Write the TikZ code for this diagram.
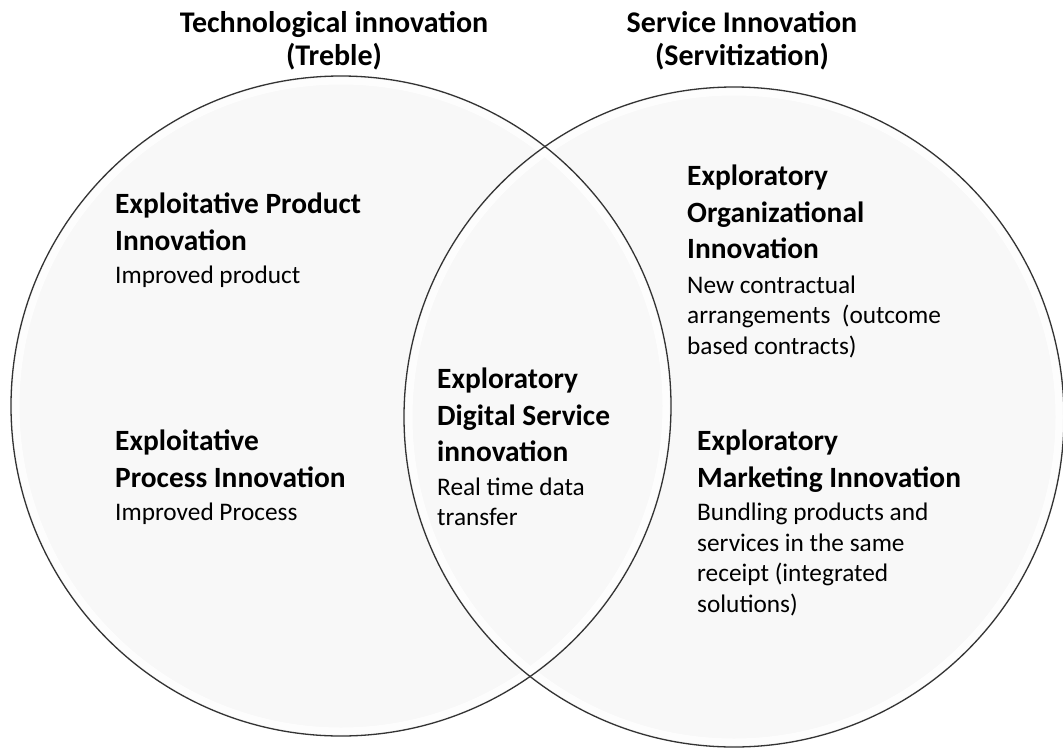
\documentclass[tikz,border=0pt]{standalone}
\usepackage{fontspec}
\setmainfont{Carlito}
\definecolor{circfill}{HTML}{F8F8F8}
\definecolor{circline}{HTML}{333333}
\begin{document}
\begin{tikzpicture}[x=1pt,y=-1pt,
  venn/.style={fill=circfill},
  vennline/.style={draw=circline, line width=1.3pt},
  glow/.style={draw=white, line width=7pt, opacity=0.8},
  block/.style={anchor=north west, inner sep=0pt, align=left, font=\fontsize{25.3}{30.5}\selectfont},
  title/.style={inner sep=0pt, anchor=base, font=\bfseries\fontsize{30}{33}\selectfont}
]
\useasboundingbox (0,0) rectangle (1063,750);
% circles
\fill[venn] (341,406) circle (330);
\fill[venn] (734,417) circle (330);
\draw[glow] (341,406) circle (325);
\draw[glow] (734,417) circle (325);
\draw[vennline] (341,406) coordinate (cl) circle (330);
\draw[vennline] (734,417) coordinate (cr) circle (330);
% titles
\node[title] (t1a) at (334,32) {Technological innovation};
\node[title] (t1b) at (334,65) {(Treble)};
\node[title] (t2a) at (742,32) {Service Innovation};
\node[title] (t2b) at (742,65) {(Servitization)};
% blocks
\newcommand{\hd}[1]{{\bfseries\fontsize{29.4}{36}\selectfont #1}}
\node[block] (b1) at (115,193) {\hd{Exploitative Product}\\[6pt]\hd{Innovation}\\[3pt]Improved product};
\node[block] (b2) at (115,430) {\hd{Exploitative}\\[6pt]\hd{Process Innovation}\\[3pt]Improved Process};
\node[block] (b3) at (437,368) {\hd{Exploratory}\\[6pt]\hd{Digital Service}\\[6pt]\hd{innovation}\\[3pt]Real time data\\transfer};
\node[block] (b4) at (687,165) {\hd{Exploratory}\\[6pt]\hd{Organizational}\\[6pt]\hd{Innovation}\\[4pt]New contractual\\arrangements\ \ (outcome\\based contracts)};
\node[block] (b5) at (697,430) {\hd{Exploratory}\\[6pt]\hd{Marketing Innovation}\\[3pt]Bundling products and\\services in the same\\receipt (integrated\\solutions)};
\end{tikzpicture}
\end{document}
